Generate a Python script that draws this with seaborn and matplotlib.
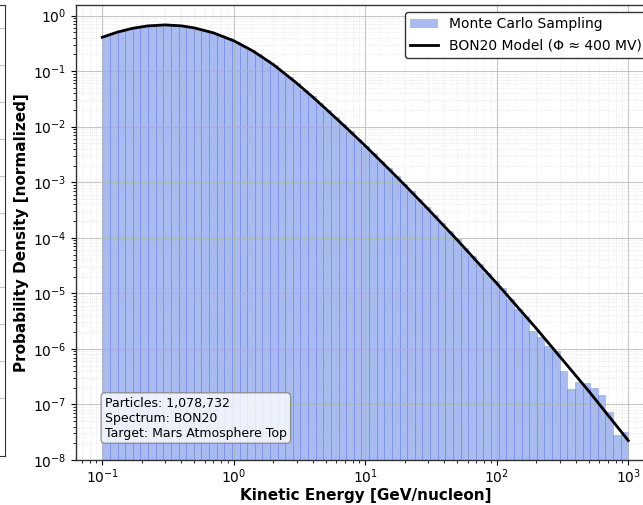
import numpy as np
import matplotlib
matplotlib.use("Agg")
import matplotlib.pyplot as plt
import seaborn as sns
from matplotlib.patches import Patch
from matplotlib.lines import Line2D
from matplotlib.ticker import LogLocator, NullFormatter

# ---------------- data ----------------
E_MIN = 0.1      # GeV/nucleon, lowest bin edge
E_MAX = 1000.0   # GeV/nucleon, highest bin edge

# normalized probability density of each log-spaced energy bin (69 bins)
density = [
    0.4325, 0.4808, 0.5272, 0.5702, 0.6081, 0.6397, 0.6637, 0.6776, 0.6792, 0.6699,
    0.6501, 0.6209, 0.5834, 0.5395, 0.4920, 0.4426, 0.3908, 0.3388, 0.2884, 0.2421,
    0.1995, 0.1618, 0.1294, 0.1016, 0.0789, 0.0608, 0.04645, 0.03524, 0.02655, 0.01991,
    0.01489, 0.01112, 8.26e-3, 6.12e-3, 4.52e-3, 3.32e-3, 2.43e-3, 1.78e-3, 1.29e-3, 9.40e-4,
    6.82e-4, 4.93e-4, 3.56e-4, 2.55e-4, 1.83e-4, 1.31e-4, 9.33e-5, 6.64e-5, 4.71e-5, 3.39e-5,
    2.37e-5, 1.70e-5, 1.26e-5, 7.76e-6, 5.13e-6, 3.98e-6, 2.09e-6, 1.66e-6, 1.15e-6, 9.33e-7,
    4.07e-7, 1.86e-7, 2.51e-7, 2.40e-7, 1.95e-7, 1.48e-7, 7.41e-8, 2.82e-8, 3.24e-8,
]

# BON20 model curve
model_energy = [0.1, 0.13, 0.17, 0.22, 0.3, 0.4, 0.5, 0.7, 1.0, 1.4, 2.0, 3.0, 4.0, 5.0,
                7.0, 10.0, 15.0, 20.0, 30.0, 50.0, 100.0, 200.0, 500.0, 1000.0]
model_density = [0.407, 0.503, 0.5894, 0.6506, 0.6797, 0.6528, 0.6004, 0.4884, 0.3516,
                 0.2300, 0.1311, 0.0611, 0.03393, 0.02103, 0.01009, 4.52e-3, 1.756e-3,
                 8.85e-4, 3.295e-4, 9.16e-5, 1.514e-5, 2.325e-6, 1.746e-7, 2.24e-8]

n_particles = 1078732
spectrum = "BON20"
target = "Mars Atmosphere Top"
hist_label = "Monte Carlo Sampling"
model_label = "BON20 Model (Φ ≈ 400 MV)"
x_label = "Kinetic Energy [GeV/nucleon]"
y_label = "Probability Density [normalized]"

# ---------------- figure ----------------
plt.rcParams['font.family'] = ['DejaVu Sans']

BLUE = (65 / 255, 105 / 255, 225 / 255)   # royalblue

fig = plt.figure(figsize=(6.43, 5.05), dpi=100)

# neighbouring panel: only its right edge is visible at the left border
axl = fig.add_axes([-0.5, 0.097, 0.507, 0.893])
axl.set_ylim(-1.57, 10.62)
axl.set_yticks(np.arange(0, 11))
axl.set_xticks([])
axl.tick_params(labelleft=False, left=False)
axl.grid(True, color='#b0b0b0', alpha=0.7, linewidth=0.8)
for s in axl.spines.values():
    s.set_color('#333333')

ax = fig.add_axes([0.1182, 0.0891, 0.8998, 0.9010])

nb = len(density)
log_range = (np.log10(E_MIN), np.log10(E_MAX))
centers = np.logspace(log_range[0], log_range[1], 2 * nb + 1)[1::2]

sns.histplot(x=centers, weights=density, bins=nb, binrange=log_range,
             log_scale=True, stat='count', element='bars',
             color=BLUE, alpha=0.45, edgecolor=BLUE + (0.32,),
             linewidth=0.6, ax=ax)
ax.set_yscale('log')
sns.lineplot(x=model_energy, y=model_density, color='black', linewidth=2.0,
             ax=ax, legend=False, zorder=5)

ax.set_xlim(10 ** -1.2, 10 ** 3.2)
ax.set_ylim(1e-8, 1.55)

for axis in (ax.xaxis, ax.yaxis):
    axis.set_major_locator(LogLocator(base=10, numticks=30))
    axis.set_minor_locator(LogLocator(base=10, subs=np.arange(2, 10), numticks=200))
    axis.set_minor_formatter(NullFormatter())

ax.grid(True, which='major', color='#b0b0b0', alpha=0.7, linewidth=0.8)
ax.grid(True, which='minor', color='#b0b0b0', alpha=0.35, linestyle=':', linewidth=0.6)

ax.tick_params(axis='both', which='major', labelsize=10)
ax.tick_params(axis='x', which='major', pad=2)
for s in ax.spines.values():
    s.set_color('#333333')
    s.set_linewidth(1.0)

ax.set_xlabel(x_label, fontsize=11, fontweight='bold', labelpad=1.5)
ax.set_ylabel(y_label, fontsize=11, fontweight='bold', labelpad=3)

handles = [Patch(facecolor=BLUE + (0.45,), edgecolor='none'),
           Line2D([], [], color='black', linewidth=2.0)]
leg = ax.legend(handles=handles, labels=[hist_label, model_label],
                loc='upper right', fontsize=10, framealpha=1.0)
leg.get_frame().set_edgecolor('#333333')

info = f"Particles: {n_particles:,}\nSpectrum: {spectrum}\nTarget: {target}"
ax.text(0.05, 0.045, info, transform=ax.transAxes, fontsize=9,
        ha='left', va='bottom',
        bbox=dict(boxstyle='round,pad=0.3', facecolor='white', alpha=0.8,
                  edgecolor='gray'))

fig.savefig('out.png', dpi=100)
